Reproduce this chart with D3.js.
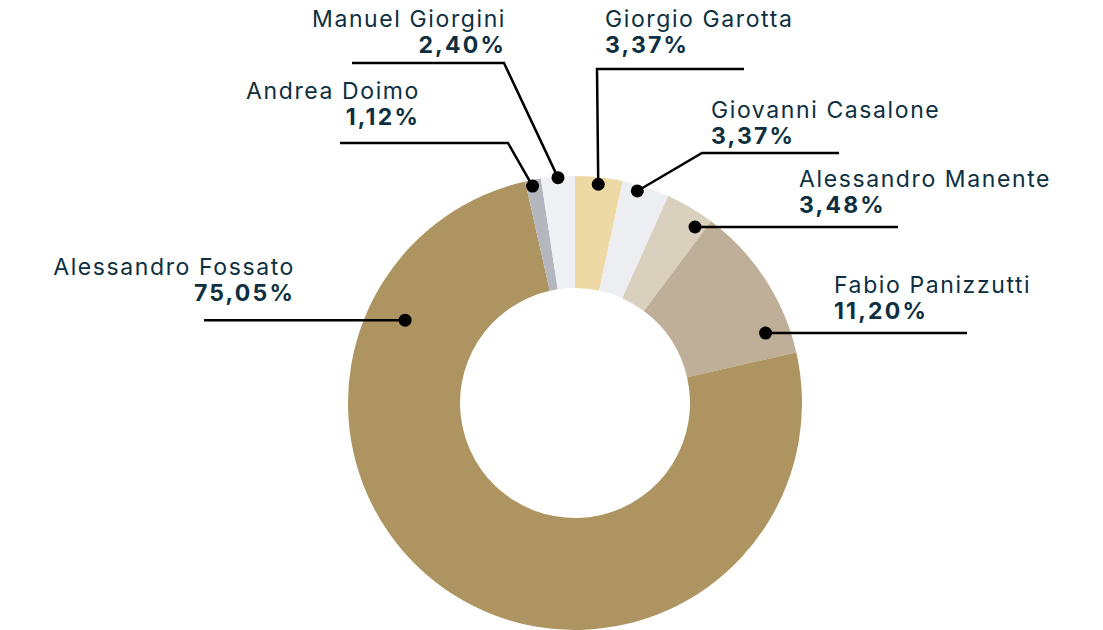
<!DOCTYPE html>
<html>
<head>
<meta charset="utf-8">
<script src="https://cdn.jsdelivr.net/npm/d3@7"></script>
<style>
  body { margin: 0; background: #fff; }
  svg { display: block; font-family: Inter, "Noto Sans", sans-serif; }
  .name { font-size: 23px; letter-spacing: 1.6px; fill: #0d2f3f; }
  .pct { font-size: 23px; font-weight: 700; letter-spacing: 2.2px; fill: #0d2f3f; }
</style>
</head>
<body>
<div id="chart"></div>
<script>
// data, clockwise from 12 o'clock
const names = ["Giorgio Garotta", "Giovanni Casalone", "Alessandro Manente", "Fabio Panizzutti",
               "Alessandro Fossato", "Andrea Doimo", "Manuel Giorgini"];
const shares = [3.37, 3.37, 3.48, 11.20, 75.05, 1.12, 2.40];
const colors = ["#ecd9a4", "#eceef1", "#d9d1bd", "#bfae98", "#ad9460", "#b4b8be", "#eef0f3"];

const width = 1103, height = 630;
const cx = 575, cy = 403, outerR = 227, innerR = 115;

// label layout: where the text sits, where the leader line bends, where the dot goes inside the slice
const labelLayout = {
  "Giorgio Garotta":    { tx: 605, ty: 27,  anchor: "start", elbow: [597, 69],  end: 744, frac: 0.5,  r: 220 },
  "Giovanni Casalone":  { tx: 711, ty: 118, anchor: "start", elbow: [702, 153], end: 839, frac: 0.35, r: 221 },
  "Alessandro Manente": { tx: 799, ty: 187, anchor: "start", elbow: null,       end: 898, frac: 0.8,  r: 213 },
  "Fabio Panizzutti":   { tx: 834, ty: 293, anchor: "start", elbow: null,       end: 967, frac: 0.82, r: 203 },
  "Alessandro Fossato": { tx: 295, ty: 275, anchor: "end",   elbow: null,       end: 204, frac: 0.81, r: 189 },
  "Andrea Doimo":       { tx: 420, ty: 99,  anchor: "end",   elbow: [508, 143], end: 340, frac: 0.4,  r: 221 },
  "Manuel Giorgini":    { tx: 506, ty: 27,  anchor: "end",   elbow: [504, 63],  end: 352, frac: 0.5,  r: 226 }
};

const data = names.map((n, i) => ({ name: n, value: shares[i], color: colors[i] }));

const svg = d3.select("#chart")
  .append("svg")
  .attr("width", width)
  .attr("height", height)
  .attr("viewBox", [0, 0, width, height]);

const pie = d3.pie().value(d => d.value).sort(null);
const arc = d3.arc().innerRadius(innerR).outerRadius(outerR);
const arcs = pie(data);

const g = svg.append("g").attr("transform", `translate(${cx},${cy})`);

g.selectAll("path.slice")
  .data(arcs)
  .join("path")
  .attr("class", "slice")
  .attr("d", arc)
  .attr("fill", d => d.data.color);

// labels + leader lines
const fmt = v => d3.format(".2f")(v).replace(".", ",") + "%";

arcs.forEach(a => {
  const L = labelLayout[a.data.name];
  const ang = a.startAngle + L.frac * (a.endAngle - a.startAngle);
  const dx = cx + L.r * Math.sin(ang), dy = cy - L.r * Math.cos(ang);

  let pts;
  if (L.elbow) pts = [[dx, dy], L.elbow, [L.end, L.elbow[1]]];
  else pts = [[dx, dy], [L.end, dy]];

  svg.append("path")
    .attr("d", d3.line()(pts))
    .attr("fill", "none")
    .attr("stroke", "#000")
    .attr("stroke-width", 2.5);

  svg.append("circle")
    .attr("cx", dx)
    .attr("cy", dy)
    .attr("r", 6.5)
    .attr("fill", "#000");

  svg.append("text")
    .attr("class", "name")
    .attr("x", L.tx)
    .attr("y", L.ty)
    .attr("text-anchor", L.anchor)
    .text(a.data.name);

  svg.append("text")
    .attr("class", "pct")
    .attr("x", L.tx)
    .attr("y", L.ty + 26)
    .attr("text-anchor", L.anchor)
    .text(fmt(a.data.value));
});
</script>
</body>
</html>
